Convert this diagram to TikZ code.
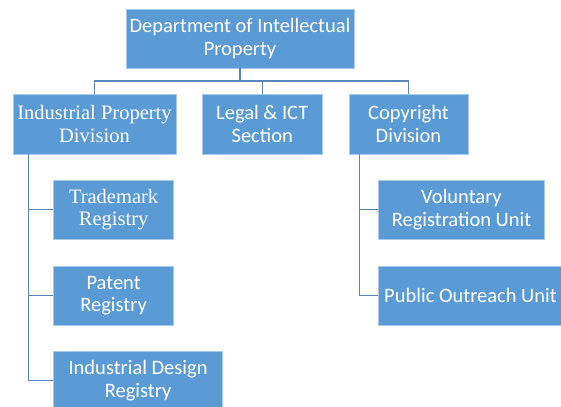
\documentclass[tikz,border=0pt]{standalone}
\usepackage{fontspec}
\setmainfont{Carlito}
\newfontfamily\tnr{Liberation Serif}
\definecolor{boxblue}{HTML}{5B9BD5}
\definecolor{boxedge}{HTML}{A9C8EA}
\definecolor{linkblue}{HTML}{5A84B8}
\begin{document}
\begin{tikzpicture}[x=1bp,y=-1bp,
  unit/.style={rectangle, fill=boxblue, draw=boxedge, line width=0.6bp, text=white,
    inner sep=0pt, align=center, font=\fontsize{20.5bp}{22.5bp}\selectfont},
  link/.style={draw=linkblue, line width=1.1bp}]
\useasboundingbox (0,0) rectangle (561,406);
\node[unit, minimum width=228bp, minimum height=59bp] (top) at (240,38.5) {Department of Intellectual\\Property};
\node[unit, minimum width=163bp, minimum height=60bp, font=\tnr\fontsize{20.5bp}{22.5bp}\selectfont] (ipd) at (94.5,124) {Industrial Property\\Division};
\node[unit, minimum width=119.5bp, minimum height=60bp] (legal) at (262.25,124) {Legal \& ICT\\Section};
\node[unit, minimum width=119bp, minimum height=60bp] (cpd) at (408.5,124) {Copyright\\Division};
\node[unit, minimum width=120bp, minimum height=59bp, font=\tnr\fontsize{20.5bp}{22.5bp}\selectfont] (tm) at (113.6,209.5) {Trademark\\Registry};
\node[unit, minimum width=120bp, minimum height=59bp] (pat) at (113.6,295.5) {Patent\\Registry};
\node[unit, minimum width=169bp, minimum height=59bp] (idr) at (138.1,380.5) {Industrial Design\\Registry};
\node[unit, minimum width=166bp, minimum height=59bp] (vol) at (461.5,209.5) {Voluntary\\Registration Unit};
\node[unit, minimum width=184bp, minimum height=59bp] (pou) at (470.5,295.5) {Public Outreach Unit};
\coordinate (bus) at (240,81);
\coordinate (ipdx) at (28.6,0);
\coordinate (cpdx) at (359.6,0);
\draw[link] (top.south) -- (top.south |- bus);
\draw[link] (ipd.north) |- (bus) -| (cpd.north);
\draw[link] (legal.north) -- (legal.north |- bus);
\draw[link] (ipd.south -| ipdx) |- (idr.west);
\draw[link] (ipdx |- tm.west) -- (tm.west);
\draw[link] (ipdx |- pat.west) -- (pat.west);
\draw[link] (cpd.south -| cpdx) |- (pou.west);
\draw[link] (cpdx |- vol.west) -- (vol.west);
\end{tikzpicture}
\end{document}
